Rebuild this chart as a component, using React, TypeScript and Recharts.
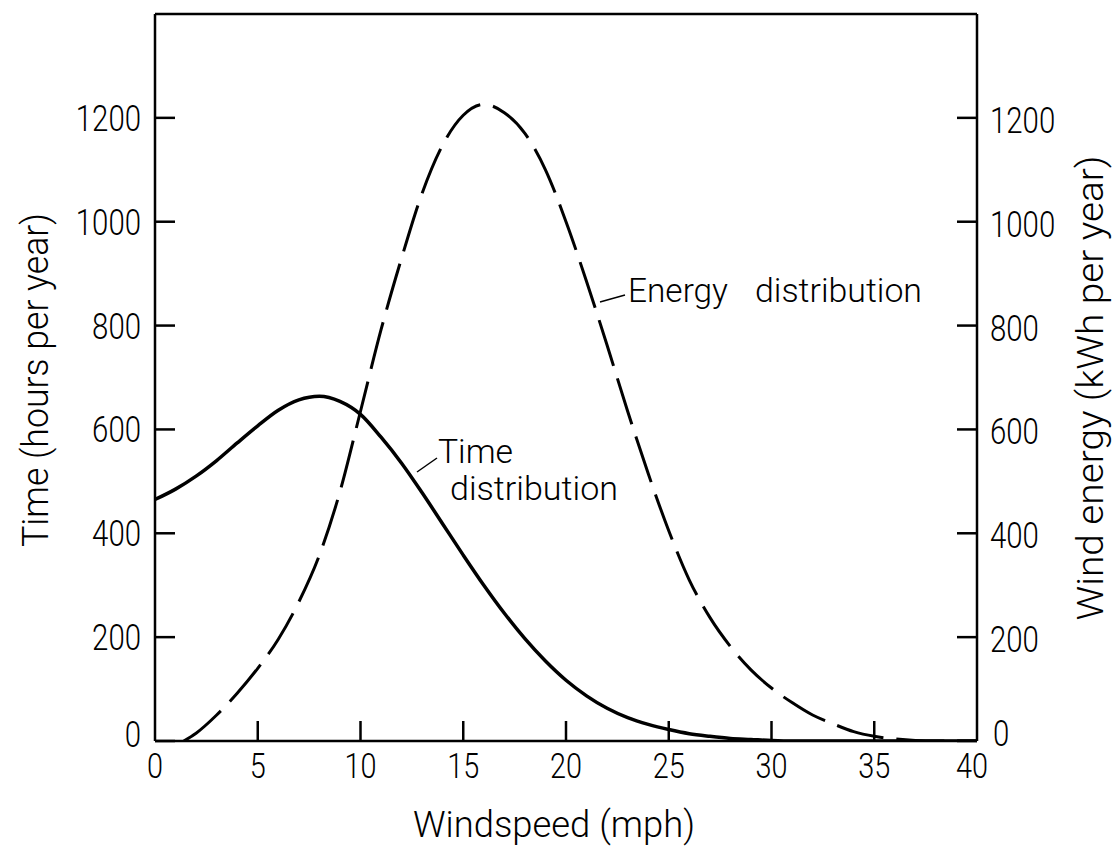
import React from 'react';
import { LineChart, Line, XAxis, YAxis, ReferenceLine, Customized } from 'recharts';

// ---- data ----
const xTicks = [0, 5, 10, 15, 20, 25, 30, 35, 40];
const leftTicks = [0, 200, 400, 600, 800, 1000, 1200];
const rightTicks = [0, 200, 400, 600, 800, 1000, 1200];

const timeSpeed = [0, 1, 2, 3, 4, 5, 6, 7, 8, 9, 10, 11, 12, 13, 14, 15, 16, 17, 18, 19, 20, 21, 22, 23, 24, 25, 26, 27, 28, 29, 30, 31, 32, 33, 34, 35, 36, 37, 38, 39, 40];
const timeHours = [465, 485, 510, 540, 574, 607, 637, 657, 664, 654, 629, 585, 535, 478, 418, 358, 300, 246, 197, 154, 117, 87, 63, 45, 32, 22, 14, 9, 5, 3, 1, 0, 0, 0, 0, 0, 0, 0, 0, 0, 0];

const energySpeed = [1.4, 2, 3, 4, 5, 6, 7, 8, 9, 10, 11, 12, 13, 14, 15, 16, 17, 18, 19, 20, 21, 22, 23, 24, 25, 26, 27, 28, 29, 30, 31, 32, 33, 34, 35, 36, 37, 38, 39, 40];
const energyKwh = [0, 15, 50, 92, 140, 196, 268, 358, 480, 635, 792, 930, 1055, 1148, 1205, 1226, 1210, 1170, 1100, 1000, 885, 762, 635, 515, 405, 310, 238, 182, 137, 102, 74, 50, 33, 18, 9, 4, 1, 0, 0, 0];

const xTitle = 'Windspeed (mph)';
const leftTitle = 'Time (hours per year)';
const rightTitle = 'Wind energy (kWh per year)';
const energyLabel = ['Energy', 'distribution'];
const timeLabel = ['Time', 'distribution'];

const timeData = timeSpeed.map((s, i) => ({ x: s, hours: timeHours[i] }));
const energyData = energySpeed.map((s, i) => ({ x: s, kwh: energyKwh[i] }));

// ---- styles ----
const FONT = "Roboto, 'Liberation Sans', Arial, sans-serif";
const FW = 300;
const CHAR_W = 16.3;
const TICK_LEN = 20;
const AX_W = 2.5;

const W = 1113;
const H = 846;

function LeftTick(props: any) {
  const { x, y, payload } = props;
  const label = String(payload.value);
  const dy = payload.value === 0 ? 6 : 13;
  return (
    <g>
      <line x1={x} y1={y} x2={x + TICK_LEN} y2={y} stroke="#000" strokeWidth={AX_W} />
      <text x={x - 14} y={y + dy} textAnchor="end" fontFamily={FONT} fontWeight={FW} fontSize={37} fill="#000"
        textLength={label.length * CHAR_W} lengthAdjust="spacingAndGlyphs">{label}</text>
    </g>
  );
}

function RightTick(props: any) {
  const { x, y, payload } = props;
  const label = String(payload.value);
  const isZero = payload.value === 0;
  const dy = isZero ? 5 : 15;
  const dx = isZero ? 16 : 13;
  return (
    <g>
      <line x1={x - TICK_LEN} y1={y} x2={x} y2={y} stroke="#000" strokeWidth={AX_W} />
      <text x={x + dx} y={y + dy} textAnchor="start" fontFamily={FONT} fontWeight={FW} fontSize={37} fill="#000"
        textLength={label.length * CHAR_W} lengthAdjust="spacingAndGlyphs">{label}</text>
    </g>
  );
}

function BottomTick(props: any) {
  const { x, y, payload } = props;
  const label = String(payload.value);
  const edge = payload.value === 0 || payload.value === 40;
  const dx = payload.value === 40 ? -5 : 0;
  return (
    <g>
      {!edge && <line x1={x} y1={y} x2={x} y2={y - TICK_LEN} stroke="#000" strokeWidth={AX_W} />}
      <text x={x + dx} y={y + 37} textAnchor="middle" fontFamily={FONT} fontWeight={FW} fontSize={35} fill="#000"
        textLength={label.length * 16} lengthAdjust="spacingAndGlyphs">{label}</text>
    </g>
  );
}

function Annotations() {
  const common = { fontFamily: FONT, fontWeight: FW, fill: '#000' } as any;
  return (
    <g>
      {/* axis titles */}
      <text transform="translate(48,380) rotate(-90)" textAnchor="middle" fontSize={37} {...common}
        textLength={334} lengthAdjust="spacingAndGlyphs">{leftTitle}</text>
      <text transform="translate(1103,388) rotate(-90)" textAnchor="middle" fontSize={37} {...common}
        textLength={465} lengthAdjust="spacingAndGlyphs">{rightTitle}</text>
      <text x={554} y={837} textAnchor="middle" fontSize={37} {...common}
        textLength={282} lengthAdjust="spacingAndGlyphs">{xTitle}</text>
      {/* curve labels */}
      <line x1={600} y1={302} x2={625} y2={295} stroke="#000" strokeWidth={1.5} />
      <text x={628} y={302} fontSize={33} {...common} textLength={100} lengthAdjust="spacingAndGlyphs">{energyLabel[0]}</text>
      <text x={755} y={302} fontSize={33} {...common} textLength={167} lengthAdjust="spacingAndGlyphs">{energyLabel[1]}</text>
      <line x1={417} y1={472} x2={437} y2={458} stroke="#000" strokeWidth={1.5} />
      <text x={438} y={463} fontSize={33} {...common} textLength={75} lengthAdjust="spacingAndGlyphs">{timeLabel[0]}</text>
      <text x={450} y={500} fontSize={33} {...common} textLength={168} lengthAdjust="spacingAndGlyphs">{timeLabel[1]}</text>
    </g>
  );
}

export default function App() {
  return (
    <div style={{ background: '#fff' }}>
      <style>{'body{margin:0;background:#fff}'}</style>
      <LineChart width={W} height={H} margin={{ top: 14, right: 0, bottom: 0, left: 0 }}>
        <XAxis type="number" dataKey="x" domain={[0, 40]} ticks={xTicks} height={H - 741}
          tickSize={0} tickMargin={0} tickLine={false} allowDataOverflow
          axisLine={{ stroke: '#000', strokeWidth: AX_W }} tick={<BottomTick />} interval={0} />
        <YAxis yAxisId="time" orientation="left" domain={[0, 1400]} ticks={leftTicks} width={155}
          tickSize={0} tickMargin={0} tickLine={false} allowDataOverflow
          axisLine={{ stroke: '#000', strokeWidth: AX_W }} tick={<LeftTick />} interval={0} />
        <YAxis yAxisId="energy" orientation="right" domain={[0, 1400]} ticks={rightTicks} width={W - 977}
          tickSize={0} tickMargin={0} tickLine={false} allowDataOverflow
          axisLine={{ stroke: '#000', strokeWidth: AX_W }} tick={<RightTick />} interval={0} />
        <ReferenceLine yAxisId="time" y={1400} stroke="#000" strokeWidth={AX_W} ifOverflow="visible" />
        <Line yAxisId="time" data={timeData} dataKey="hours" type="monotone" stroke="#000" strokeWidth={3.5}
          dot={false} activeDot={false} isAnimationActive={false} />
        <Line yAxisId="energy" data={energyData} dataKey="kwh" type="monotone" stroke="#000" strokeWidth={3}
          strokeDasharray="48 13" dot={false} activeDot={false} isAnimationActive={false} />
        <Customized component={Annotations} />
      </LineChart>
    </div>
  );
}
